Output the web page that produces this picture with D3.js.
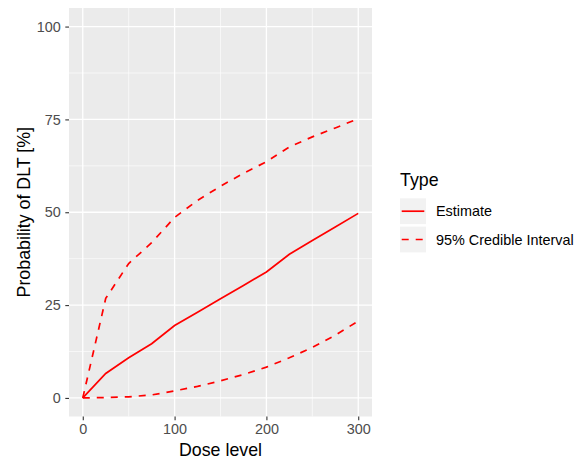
<!DOCTYPE html>
<html><head><meta charset="utf-8">
<script src="https://cdn.jsdelivr.net/npm/d3@7"></script>
<style>body{margin:0;background:#fff}svg{display:block}text{font-family:"Liberation Sans",Arial,sans-serif}</style>
</head><body>
<script>
const doses = [0, 25, 50, 75, 100, 125, 150, 175, 200, 225, 250, 275, 300];
const estimate = [0, 6.6, 10.8, 14.6, 19.5, 23.1, 26.7, 30.3, 33.9, 38.7, 42.4, 46.0, 49.7];
const upper = [0, 26.8, 36.2, 41.8, 48.6, 53.2, 57.0, 60.5, 63.6, 67.6, 70.3, 72.7, 75.2];
const lower = [0, 0.1, 0.3, 0.8, 1.9, 3.1, 4.6, 6.3, 8.3, 10.8, 13.6, 16.9, 20.7];
const xTicks = [0, 100, 200, 300];
const yTicks = [0, 25, 50, 75, 100];
const xMinor = [50, 150, 250];
const yMinor = [12.5, 37.5, 62.5, 87.5];
const legendLabels = ["Estimate", "95% Credible Interval"];

const W = 576, H = 460;
const P = {l: 69, r: 372, t: 8, b: 416.5};
const svg = d3.select("body").append("svg").attr("width", W).attr("height", H);
const x = d3.scaleLinear().domain([-15, 315]).range([P.l, P.r]);
const y = d3.scaleLinear().domain([-5, 105]).range([P.b, P.t]);

svg.append("rect").attr("x", P.l).attr("y", P.t).attr("width", P.r - P.l).attr("height", P.b - P.t).attr("fill", "#EBEBEB");
const g = svg.append("g");
g.selectAll(".mx").data(xMinor).join("line").attr("x1", d => x(d)).attr("x2", d => x(d)).attr("y1", P.t).attr("y2", P.b).attr("stroke", "#fff").attr("stroke-width", 0.6);
g.selectAll(".my").data(yMinor).join("line").attr("y1", d => y(d)).attr("y2", d => y(d)).attr("x1", P.l).attr("x2", P.r).attr("stroke", "#fff").attr("stroke-width", 0.6);
g.selectAll(".Mx").data(xTicks).join("line").attr("x1", d => x(d)).attr("x2", d => x(d)).attr("y1", P.t).attr("y2", P.b).attr("stroke", "#fff").attr("stroke-width", 1.3);
g.selectAll(".My").data(yTicks).join("line").attr("y1", d => y(d)).attr("y2", d => y(d)).attr("x1", P.l).attr("x2", P.r).attr("stroke", "#fff").attr("stroke-width", 1.3);

const line = d3.line().x((d, i) => x(doses[i])).y(d => y(d));
svg.append("path").attr("d", line(lower)).attr("fill", "none").attr("stroke", "#FF0000").attr("stroke-width", 1.7).attr("stroke-dasharray", "7,7");
svg.append("path").attr("d", line(upper)).attr("fill", "none").attr("stroke", "#FF0000").attr("stroke-width", 1.7).attr("stroke-dasharray", "7,7");
svg.append("path").attr("d", line(estimate)).attr("fill", "none").attr("stroke", "#FF0000").attr("stroke-width", 1.7);

const xa = svg.append("g").attr("transform", `translate(0,${P.b})`).call(d3.axisBottom(x).tickValues(xTicks).tickSize(3.7).tickPadding(3.5).tickFormat(d3.format("d")));
const ya = svg.append("g").attr("transform", `translate(${P.l},0)`).call(d3.axisLeft(y).tickValues(yTicks).tickSize(3.7).tickPadding(4.5).tickFormat(d3.format("d")));
[xa, ya].forEach(a => {
  a.select(".domain").remove();
  a.selectAll(".tick line").attr("stroke", "#333").attr("stroke-width", 1.1);
  a.selectAll(".tick text").attr("fill", "#4D4D4D").style("font-size", "14.4px").style("font-family", "Liberation Sans, Arial, sans-serif");
});

svg.append("text").attr("x", (P.l + P.r) / 2).attr("y", 456).attr("text-anchor", "middle").style("font-size", "17.8px").attr("fill", "#000").text("Dose level");
svg.append("text").attr("transform", `translate(29.5,${(P.t + P.b) / 2}) rotate(-90)`).attr("text-anchor", "middle").style("font-size", "17.8px").attr("fill", "#000").text("Probability of DLT [%]");

const lg = svg.append("g").attr("transform", "translate(400,0)");
lg.append("text").attr("x", 0).attr("y", 186).style("font-size", "17.8px").text("Type");
legendLabels.forEach((lab, i) => {
  const cy = 211.2 + i * 28.3;
  lg.append("rect").attr("x", 0).attr("y", cy - 12.9).attr("width", 26).attr("height", 25.8).attr("fill", "#F2F2F2");
  const l = lg.append("line").attr("x1", 1.7).attr("x2", 24.3).attr("y1", cy).attr("y2", cy).attr("stroke", "#FF0000").attr("stroke-width", 1.7);
  if (i === 1) l.attr("stroke-dasharray", "7,7");
  lg.append("text").attr("x", 36).attr("y", cy + 5).style("font-size", "14.4px").text(lab);
});
</script>
</body></html>
